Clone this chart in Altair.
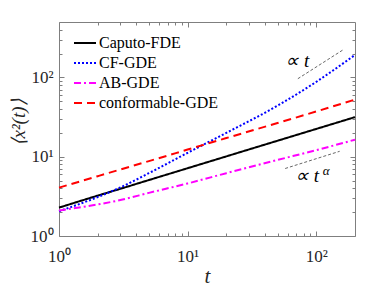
import altair as alt
import pandas as pd

# ---- data ----
t_vals = [1, 2, 3, 5, 10, 20, 50, 100, 200]
caputo = [2.28, 3.23, 3.94, 5.08, 7.16, 10.1, 15.9, 22.4, 31.6]
cf = [2.05, 3.1, 4.1, 6.2, 11.2, 20.0, 44.0, 88.0, 192.0]
ab = [2.1, 2.5, 2.84, 3.5, 4.6, 6.2, 9.1, 12.1, 16.4]
conf = [4.07, 5.68, 6.9, 8.8, 12.3, 17.2, 26.6, 37.2, 52.5]

series_names = ["Caputo-FDE", "CF-GDE", "AB-GDE", "conformable-GDE"]
series_colors = ["#000000", "#0000FF", "#FF00FF", "#FF0000"]
series_dashes = [[1, 0], [2, 2], [7, 3, 2, 3], [8, 5]]

ref_t = [71.9, 161.7, 57.3, 152.0]
ref_y = [96.3, 223.0, 7.1, 11.7]
ref_group = ["lin", "lin", "alpha", "alpha"]

ann_t = [71.3, 84.8]
ann_y = [134.8, 4.82]
ann_text = ["∝ t", "∝ t"]
ann_sup = ["", "α"]

major_ticks = [1, 10, 100]
x_minor = [2, 3, 4, 5, 6, 7, 8, 9, 20, 30, 40, 50, 60, 70, 80, 90]
y_minor = [2, 3, 4, 5, 6, 7, 8, 9, 20, 30, 40, 50, 60, 70, 80, 90, 200, 300, 400]

rows = []
for name, vals in zip(series_names, [caputo, cf, ab, conf]):
    for t, v in zip(t_vals, vals):
        rows.append({"t": t, "msd": v, "series": name})
df = pd.DataFrame(rows)
ref_df = pd.DataFrame({"t": ref_t, "msd": ref_y, "g": ref_group})
ann_df = pd.DataFrame({"t": ann_t, "msd": ann_y, "txt": ann_text, "sup": ann_sup})

FONT = "Liberation Serif"
FRAME = "#7f7f7f"
xscale = alt.Scale(type="log", domain=[1, 200], nice=False)
yscale = alt.Scale(type="log", domain=[1, 500], nice=False)
lab_expr = "datum.value == 1 ? '10⁰' : (datum.value == 10 ? '10¹' : '10²')"

leg = alt.Legend(orient="none", legendX=14, legendY=9, title=None,
                 labelFont=FONT, labelFontSize=16, labelColor="#000000",
                 symbolType="stroke", symbolSize=484, symbolStrokeWidth=2,
                 rowPadding=-4, labelOffset=2, padding=0)

main = alt.Chart(df).mark_line(strokeWidth=2, interpolate="monotone").encode(
    x=alt.X("t:Q", scale=xscale, axis=alt.Axis(
        orient="bottom", values=major_ticks, labelExpr=lab_expr, ticks=False,
        domain=False, grid=False, labelFont=FONT, labelFontSize=17, labelFlush=False,
        labelPadding=12, labelColor="#262626", title="t", titleFont=FONT,
        titleFontStyle="italic", titleFontWeight="normal", titleFontSize=21,
        titleColor="#262626", titleBaseline="alphabetic", titleY=46)),
    y=alt.Y("msd:Q", scale=yscale, axis=alt.Axis(
        orient="left", values=major_ticks, labelExpr=lab_expr, ticks=False,
        domain=False, grid=False, labelFont=FONT, labelFontSize=17, labelFlush=False,
        labelPadding=6, labelColor="#262626", title="⟨x²(t)⟩", titleFont=FONT,
        titleFontStyle="italic", titleFontWeight="normal", titleFontSize=19,
        titleColor="#262626", titleAngle=270, titleBaseline="middle",
        titleX=-41, titleY=100)),
    color=alt.Color("series:N", scale=alt.Scale(domain=series_names, range=series_colors), legend=leg),
    strokeDash=alt.StrokeDash("series:N", scale=alt.Scale(domain=series_names, range=series_dashes), legend=leg),
)


def tick_layer(xo, yo, xv, yv, size):
    return alt.Chart(df).mark_point(opacity=0).encode(
        x=alt.X("t:Q", scale=xscale, axis=alt.Axis(
            orient=xo, values=xv, offset=-size, tickSize=size, labels=False,
            domain=False, grid=False, title=None, tickColor=FRAME, tickWidth=1)),
        y=alt.Y("msd:Q", scale=yscale, axis=alt.Axis(
            orient=yo, values=yv, offset=-size, tickSize=size, labels=False,
            domain=False, grid=False, title=None, tickColor=FRAME, tickWidth=1)),
    )


ticks = [
    tick_layer("bottom", "left", major_ticks, major_ticks, 5),
    tick_layer("bottom", "left", x_minor, y_minor, 3),
    tick_layer("top", "right", major_ticks, major_ticks, 5),
    tick_layer("top", "right", x_minor, y_minor, 3),
]

refs = alt.Chart(ref_df).mark_line(color="#000000", strokeWidth=0.6, strokeDash=[3, 2]).encode(
    x=alt.X("t:Q", scale=xscale, axis=None),
    y=alt.Y("msd:Q", scale=yscale, axis=None),
    detail="g:N",
)

ann = alt.Chart(ann_df).mark_text(font=FONT, fontSize=19, fontStyle="italic",
                                  baseline="alphabetic", align="center", color="#000000").encode(
    x=alt.X("t:Q", scale=xscale, axis=None),
    y=alt.Y("msd:Q", scale=yscale, axis=None),
    text="txt:N",
)
sup = alt.Chart(ann_df).mark_text(font=FONT, fontSize=13, fontStyle="italic",
                                  baseline="alphabetic", align="center", color="#000000",
                                  dx=19, dy=-7).encode(
    x=alt.X("t:Q", scale=xscale, axis=None),
    y=alt.Y("msd:Q", scale=yscale, axis=None),
    text="sup:N",
)

chart = alt.layer(main, *ticks, refs, ann, sup).resolve_axis(
    x="independent", y="independent"
).properties(
    width=296, height=214,
    autosize=alt.AutoSizeParams(type="none"),
    padding={"left": 51, "top": 14, "right": 29, "bottom": 50},
).configure(font=FONT).configure_view(
    stroke=FRAME, strokeWidth=1
).configure_legend(labelFont=FONT).configure_axis(
    labelFont=FONT, titleFont=FONT
).configure_text(font=FONT)

chart.save("out.html", embed_options={"renderer": "svg", "actions": False})
